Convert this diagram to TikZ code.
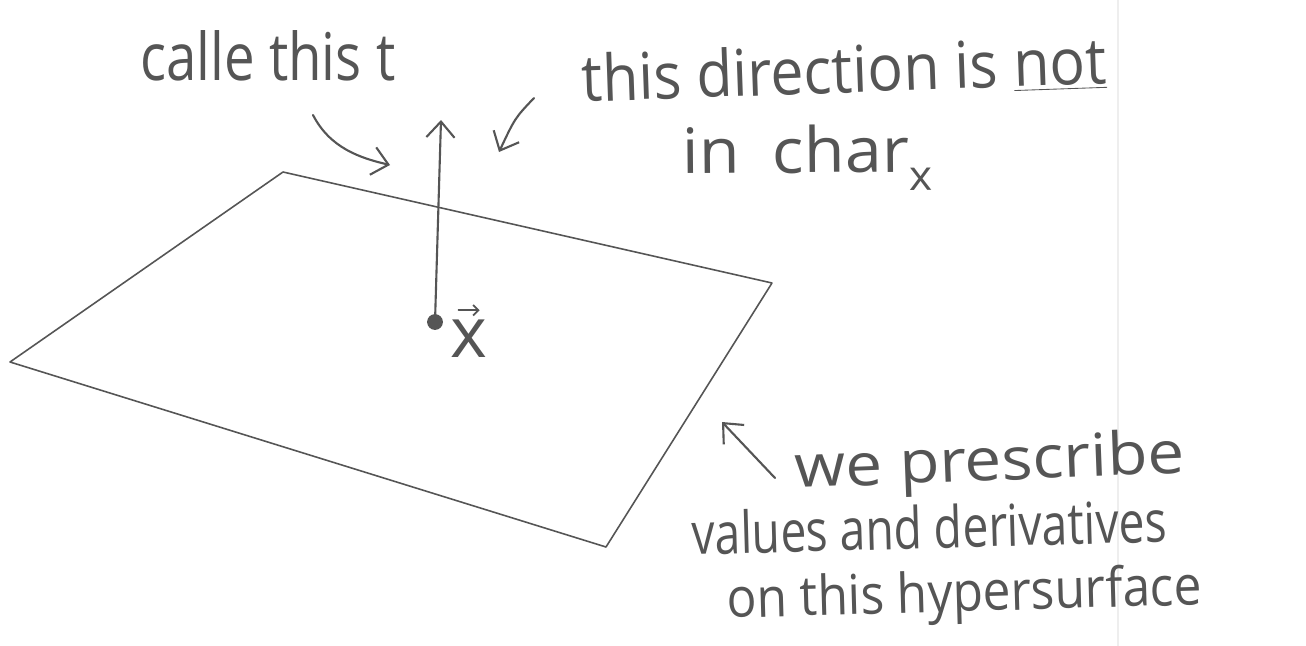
\documentclass[tikz,border=0pt]{standalone}
\usepackage{fontspec}
\setmainfont{Open Sans}
\usetikzlibrary{arrows.meta}
\definecolor{pencil}{HTML}{555555}
\definecolor{fold}{HTML}{EEEEEE}
\newcommand{\hwtext}[3]{\resizebox{#1}{#2}{#3}}
\begin{document}
\begin{tikzpicture}[x=0.02cm,y=-0.02cm,
  stroke/.style={draw=pencil, line width=1.2pt, line cap=round, line join=round},
  edge/.style={draw=pencil, line width=0.9pt, line cap=round, line join=round},
  pointer/.style={stroke, -{Straight Barb[length=9pt,width=16pt,line width=1.2pt]}},
  note/.style={inner sep=0pt, text=pencil, anchor=base west, font=\fontsize{30}{36}\selectfont}]
\useasboundingbox (0,0) rectangle (1306,646);
\fill[white] (0,0) rectangle (1306,646);
% faint paper fold
\draw[fold, line width=0.8pt] (1118,0) -- (1118,646);

% hypersurface (parallelogram)
\coordinate (A) at (283,172);
\coordinate (B) at (772,283);
\coordinate (C) at (606,547);
\coordinate (D) at (10,362);
\draw[edge] (A) -- (B) -- (C) -- (D) -- cycle;

% point x and the direction t
\node[circle, fill=pencil, inner sep=0pt, minimum size=9pt] (p) at (435,322) {};
\node[text=pencil, font=\fontsize{40}{48}\selectfont, inner sep=0pt, anchor=base] (xlab) at (469,357) {x};
\draw[draw=pencil, line width=1pt, line cap=round, -{Straight Barb[length=3pt,width=6pt,line width=1pt]}]
  ([xshift=-6pt,yshift=5pt]xlab.north) -- ([xshift=6pt,yshift=5pt]xlab.north);
\coordinate (tip) at (441,120);
\draw[pointer] (p.center) -- (tip);

% labels
\node[note] (calle) at (140,80) {\hwtext{5.1cm}{1.0cm}{calle this t}};
\node[note, rotate=2] (dir) at (582,102) {\hwtext{10.5cm}{0.98cm}{this direction is \underline{not}}};
\node[note, rotate=0.5] (char) at (682,174) {\hwtext{5.0cm}{0.95cm}{in\enspace char\raisebox{-0.3em}{\fontsize{20}{22}\selectfont x}}};
\node[note, rotate=2.2] (we) at (795,488) {\hwtext{7.8cm}{0.9cm}{we prescribe}};
\node[note, rotate=1.6] (values) at (692,555) {\hwtext{9.5cm}{0.88cm}{values and derivatives}};
\node[note, rotate=1.6] (on) at (727,618) {\hwtext{9.5cm}{0.84cm}{on this hypersurface}};

% pointers
\coordinate (c1) at (313,115);
\coordinate (c1e) at (390,165);
\draw[pointer] (c1) .. controls (330,148) and (360,158) .. (c1e);
\coordinate (d1) at (534,98);
\coordinate (d1e) at (499,152);
\draw[pointer] (d1) .. controls (515,118) .. (d1e);
\coordinate (w1) at (775,478);
\coordinate (w1e) at (722,422);
\draw[pointer] (w1) -- (w1e);
\end{tikzpicture}
\end{document}
